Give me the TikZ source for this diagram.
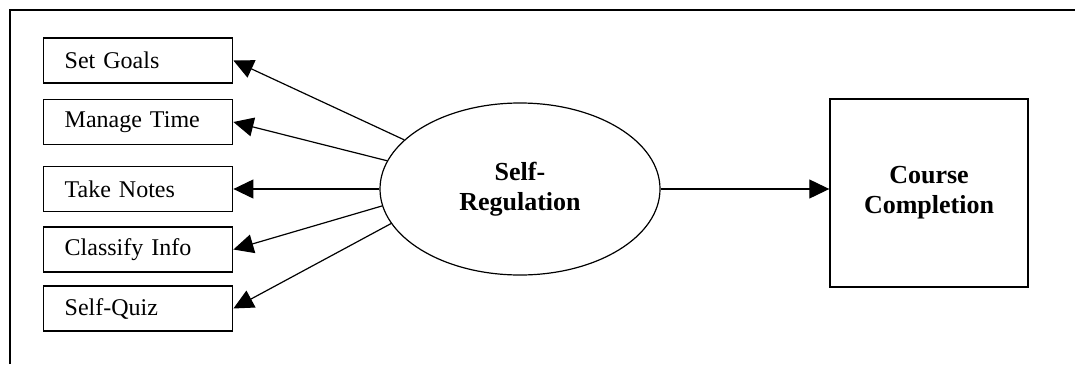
\documentclass[tikz,border=0pt]{standalone}
\usepackage{fontspec}
\setmainfont{Liberation Serif}
\usetikzlibrary{arrows.meta,shapes.geometric}
\begin{document}
\begin{tikzpicture}[x=0.5pt,y=-0.5pt,
  task/.style={draw, line width=0.7pt, anchor=west, minimum height=22.5pt, text width=73.5pt,
    inner xsep=10.5pt, inner ysep=0pt, align=left, font=\fontsize{12}{14}\selectfont},
  link/.style={line width=0.6pt, -{Triangle[length=10pt,width=9.5pt]}},
  bigtext/.style={align=center, font=\bfseries\fontsize{13}{15}\selectfont}]
\useasboundingbox (0,0) rectangle (1075,364);
\draw[line width=1pt] (9.5,364) -- (9.5,9.5) -- (1075,9.5);
\node[ellipse, draw, line width=0.6pt, minimum width=140pt, minimum height=86pt, inner sep=0pt, bigtext] (selfreg) at (520,189) {Self-\\Regulation};
\node[draw, line width=0.7pt, minimum width=99pt, minimum height=94pt, bigtext] (course) at (929,193) {Course\\Completion};
\foreach \n/\y/\a/\t in {goals/60.5/157.7/Set Goals, time/122/168.4/Manage Time, notes/189/180/Take Notes, classify/249.5/187.3/Classify Info, quiz/308.5/195.8/Self-Quiz}
{
	\node[task] (\n) at (43,\y) {\t};
	\draw[link] (selfreg.\a) -- (\n.east);
}
\draw[link] (selfreg.east) -- (selfreg.east -| course.west);
\end{tikzpicture}
\end{document}
